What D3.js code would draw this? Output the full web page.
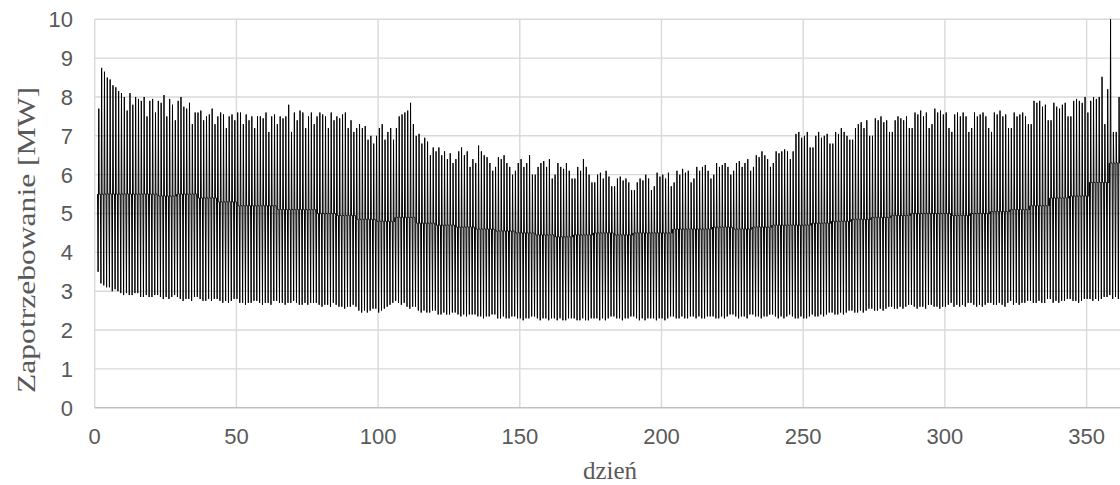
<!DOCTYPE html>
<html>
<head>
<meta charset="utf-8">
<script src="https://cdn.jsdelivr.net/npm/d3@7/dist/d3.min.js"></script>
<style>
  body { margin: 0; background: #fff; }
</style>
</head>
<body>
<div id="chart"></div>
<script>
// daily peak demand [MW], one row per week (days 1..364)
var dailyPeak = [
  7.7, 8.75, 8.65, 8.5, 8.45, 8.3, 8.25,
  8.15, 8.1, 8.0, 7.65, 8.1, 7.8, 8.0,
  7.95, 7.9, 8.0, 7.5, 7.9, 7.95, 7.6,
  7.9, 7.85, 8.05, 7.5, 7.95, 7.8, 7.4,
  7.9, 8.0, 7.75, 7.7, 7.85, 7.3, 7.6,
  7.6, 7.65, 7.4, 7.5, 7.55, 7.7, 7.3,
  7.5, 7.6, 7.55, 7.2, 7.5, 7.55, 7.4,
  7.6, 7.6, 7.3, 7.55, 7.4, 7.5, 7.2,
  7.5, 7.5, 7.45, 7.6, 7.1, 7.5, 7.55,
  7.3, 7.5, 7.45, 7.5, 7.8, 7.1, 7.6,
  7.4, 7.65, 7.6, 7.2, 7.5, 7.6, 7.3,
  7.5, 7.6, 7.55, 7.5, 7.2, 7.6, 7.4,
  7.5, 7.45, 7.55, 7.6, 7.2, 7.4, 7.1,
  7.2, 7.3, 7.2, 7.25, 6.9, 7.0, 6.8,
  7.0, 7.2, 7.3, 6.9, 7.1, 7.2, 6.9,
  7.2, 7.5, 7.55, 7.6, 7.65, 7.85, 7.3,
  7.0, 7.05, 6.8, 6.95, 6.85, 6.5, 6.7,
  6.6, 6.7, 6.5, 6.6, 6.4, 6.55, 6.3,
  6.4, 6.6, 6.7, 6.5, 6.6, 6.2, 6.4,
  6.3, 6.75, 6.6, 6.5, 6.45, 6.3, 6.1,
  6.2, 6.45, 6.4, 6.5, 6.3, 6.2, 6.0,
  6.1, 6.3, 6.4, 6.2, 6.3, 6.5, 6.0,
  6.0, 6.2, 6.3, 6.35, 6.2, 6.4, 5.9,
  6.0, 6.3, 6.2, 6.15, 6.3, 6.1, 5.9,
  5.9, 6.2, 6.1, 6.4, 6.2, 6.0, 5.8,
  5.8, 6.0, 6.05, 5.9, 6.1, 5.95, 5.7,
  5.7, 5.9, 5.95, 5.85, 5.9, 5.8, 5.6,
  5.6, 5.8, 5.9, 5.85, 6.0, 5.9, 5.6,
  5.7, 6.05, 5.95, 6.0, 5.9, 6.05, 5.7,
  5.8, 6.1, 6.0, 6.15, 6.05, 6.1, 5.8,
  5.9, 6.2, 6.1, 6.2, 6.25, 6.1, 5.9,
  6.0, 6.3, 6.2, 6.25, 6.3, 6.2, 6.0,
  6.1, 6.3, 6.35, 6.2, 6.3, 6.4, 6.1,
  6.2, 6.5, 6.45, 6.6, 6.5, 6.4, 6.2,
  6.3, 6.6, 6.55, 6.6, 6.65, 6.6, 6.4,
  6.6, 7.05, 7.1, 6.95, 7.0, 7.1, 6.7,
  6.7, 7.0, 7.1, 6.95, 7.0, 7.05, 6.8,
  6.8, 7.1, 7.05, 7.2, 7.1, 7.0, 6.9,
  6.9, 7.2, 7.3, 7.35, 7.2, 7.4, 7.0,
  7.0, 7.45, 7.4, 7.5, 7.35, 7.4, 7.1,
  7.1, 7.4, 7.5, 7.45, 7.4, 7.5, 7.2,
  7.2, 7.6, 7.55, 7.65, 7.5, 7.6, 7.2,
  7.3, 7.7, 7.6, 7.65, 7.55, 7.6, 7.2,
  7.1, 7.55, 7.6, 7.5, 7.6, 7.5, 7.1,
  7.2, 7.6, 7.5, 7.55, 7.6, 7.5, 7.2,
  7.1, 7.6, 7.55, 7.65, 7.5, 7.55, 7.2,
  7.2, 7.6, 7.5, 7.55, 7.6, 7.5, 7.3,
  7.3, 7.9, 7.85, 7.9, 7.75, 7.8, 7.4,
  7.4, 7.85, 7.75, 7.7, 7.8, 7.85, 7.5,
  7.5, 7.9, 7.95, 7.9, 7.85, 8.0, 7.6,
  7.9, 8.0, 7.95, 8.0, 8.52, 7.3, 8.2,
  10.0, 7.1, 7.1, 8.0, 7.0, 7.0, 6.8
];

// daily minimum (night) demand [MW]
var dailyLow = [
  3.5, 3.2, 3.15, 3.1, 3.1, 3.0, 3.05,
  3.0, 2.95, 2.9, 2.95, 2.9, 2.9, 2.95,
  2.95, 2.85, 2.85, 2.9, 2.85, 2.85, 2.9,
  2.9, 2.85, 2.8, 2.85, 2.8, 2.85, 2.9,
  2.85, 2.8, 2.75, 2.8, 2.8, 2.75, 2.85,
  2.85, 2.8, 2.75, 2.75, 2.8, 2.75, 2.8,
  2.8, 2.75, 2.7, 2.75, 2.7, 2.75, 2.8,
  2.8, 2.7, 2.7, 2.65, 2.7, 2.7, 2.75,
  2.75, 2.7, 2.65, 2.7, 2.7, 2.65, 2.75,
  2.75, 2.7, 2.7, 2.65, 2.7, 2.7, 2.75,
  2.7, 2.65, 2.65, 2.7, 2.65, 2.7, 2.7,
  2.7, 2.65, 2.6, 2.65, 2.65, 2.6, 2.7,
  2.65, 2.6, 2.6, 2.55, 2.6, 2.6, 2.65,
  2.6, 2.5, 2.45, 2.5, 2.45, 2.5, 2.55,
  2.55, 2.45, 2.5, 2.55, 2.6, 2.65, 2.7,
  2.75, 2.7, 2.65, 2.7, 2.6, 2.55, 2.6,
  2.6, 2.5, 2.45, 2.5, 2.45, 2.45, 2.5,
  2.5, 2.4, 2.4, 2.45, 2.4, 2.4, 2.45,
  2.45, 2.4, 2.35, 2.4, 2.35, 2.4, 2.4,
  2.4, 2.35, 2.35, 2.3, 2.35, 2.35, 2.4,
  2.4, 2.3, 2.3, 2.35, 2.3, 2.3, 2.35,
  2.35, 2.3, 2.3, 2.25, 2.3, 2.3, 2.35,
  2.35, 2.3, 2.25, 2.3, 2.3, 2.25, 2.3,
  2.3, 2.25, 2.3, 2.25, 2.25, 2.3, 2.3,
  2.3, 2.25, 2.25, 2.3, 2.25, 2.25, 2.3,
  2.3, 2.3, 2.25, 2.3, 2.25, 2.3, 2.35,
  2.35, 2.3, 2.3, 2.25, 2.3, 2.3, 2.35,
  2.35, 2.3, 2.25, 2.3, 2.25, 2.3, 2.3,
  2.3, 2.25, 2.3, 2.3, 2.25, 2.3, 2.35,
  2.35, 2.3, 2.3, 2.35, 2.3, 2.3, 2.35,
  2.35, 2.3, 2.35, 2.3, 2.3, 2.35, 2.35,
  2.35, 2.3, 2.3, 2.35, 2.3, 2.35, 2.4,
  2.4, 2.35, 2.3, 2.35, 2.35, 2.3, 2.4,
  2.4, 2.35, 2.35, 2.3, 2.35, 2.35, 2.4,
  2.4, 2.35, 2.3, 2.35, 2.3, 2.35, 2.4,
  2.35, 2.3, 2.3, 2.35, 2.3, 2.3, 2.35,
  2.4, 2.35, 2.35, 2.4, 2.35, 2.4, 2.45,
  2.45, 2.4, 2.4, 2.45, 2.4, 2.45, 2.5,
  2.5, 2.45, 2.45, 2.5, 2.45, 2.5, 2.55,
  2.55, 2.5, 2.5, 2.55, 2.5, 2.55, 2.6,
  2.6, 2.55, 2.55, 2.6, 2.55, 2.6, 2.65,
  2.65, 2.6, 2.55, 2.6, 2.6, 2.55, 2.65,
  2.65, 2.6, 2.6, 2.55, 2.6, 2.6, 2.65,
  2.7, 2.6, 2.65, 2.6, 2.65, 2.6, 2.7,
  2.7, 2.65, 2.6, 2.65, 2.6, 2.65, 2.7,
  2.7, 2.65, 2.65, 2.7, 2.65, 2.6, 2.7,
  2.75, 2.65, 2.7, 2.65, 2.7, 2.7, 2.75,
  2.75, 2.7, 2.7, 2.75, 2.7, 2.7, 2.8,
  2.8, 2.7, 2.75, 2.7, 2.75, 2.75, 2.8,
  2.8, 2.75, 2.75, 2.7, 2.75, 2.8, 2.8,
  2.8, 2.75, 2.8, 2.75, 2.8, 2.85, 2.85,
  2.9, 2.8, 2.85, 2.8, 2.85, 2.85, 2.85
];

// level of the afternoon / evening plateau, one value per week [MW]
var weeklyMid = [
  5.5, 5.5, 5.5, 5.45, 5.5, 5.4, 5.3, 5.2, 5.2, 5.1,
  5.1, 5.0, 4.95, 4.85, 4.8, 4.9, 4.75, 4.7, 4.65, 4.6,
  4.55, 4.5, 4.45, 4.4, 4.45, 4.5, 4.45, 4.5, 4.5, 4.6,
  4.6, 4.65, 4.6, 4.65, 4.7, 4.7, 4.75, 4.8, 4.85, 4.9,
  4.95, 5.0, 5.0, 4.95, 5.0, 5.05, 5.1, 5.2, 5.4, 5.45,
  5.8, 6.3
];

var xTicks = [0, 50, 100, 150, 200, 250, 300, 350];
var yTicks = [0, 1, 2, 3, 4, 5, 6, 7, 8, 9, 10];

var svgWidth = 1120;
var svgHeight = 485;

var margin = { top: 19.3, left: 94.7, bottom: 77.3 };
var plotBottom = svgHeight - margin.bottom;

var svg = d3.select("#chart")
  .append("svg")
  .attr("width", svgWidth)
  .attr("height", svgHeight);

// 50 days ~ 141.7 px, the chart is cut off at the right edge
var xScale = d3.scaleLinear()
  .domain([0, 400])
  .range([margin.left, margin.left + 400 * 2.834]);

var yScale = d3.scaleLinear()
  .domain([0, 10])
  .range([plotBottom, margin.top]);

// gridlines
svg.append("g")
  .selectAll("line")
  .data(yTicks.slice(1))
  .enter()
  .append("line")
  .attr("x1", margin.left)
  .attr("x2", svgWidth)
  .attr("y1", d => yScale(d))
  .attr("y2", d => yScale(d))
  .attr("stroke", "#d9d9d9")
  .attr("stroke-width", 1.4);

svg.append("g")
  .selectAll("line")
  .data(xTicks)
  .enter()
  .append("line")
  .attr("x1", d => xScale(d))
  .attr("x2", d => xScale(d))
  .attr("y1", margin.top)
  .attr("y2", plotBottom)
  .attr("stroke", "#d9d9d9")
  .attr("stroke-width", 1.4);

// x axis line
svg.append("line")
  .attr("x1", margin.left)
  .attr("x2", svgWidth)
  .attr("y1", plotBottom)
  .attr("y2", plotBottom)
  .attr("stroke", "#bfbfbf")
  .attr("stroke-width", 1.4);

// build the load curve: each day goes down to its night low, up to its peak,
// then sits on the evening plateau
var pts = [];
dailyPeak.forEach((peak, i) => {
  var d = i + 1;
  var mid = weeklyMid[Math.floor(i / 7)];
  pts.push([d, mid]);
  pts.push([d + 0.2, dailyLow[i]]);
  pts.push([d + 0.45, peak]);
  pts.push([d + 0.6, mid]);
  pts.push([d + 0.95, mid]);
});

var line = d3.line()
  .x(p => xScale(p[0]))
  .y(p => yScale(p[1]));

svg.append("path")
  .datum(pts)
  .attr("d", line)
  .attr("fill", "none")
  .attr("stroke", "#000")
  .attr("stroke-width", 1);

// tick labels
var tickFont = "'Liberation Sans', Arial, sans-serif";

svg.append("g")
  .selectAll("text")
  .data(yTicks)
  .enter()
  .append("text")
  .attr("x", 73)
  .attr("y", d => yScale(d))
  .attr("dy", "0.36em")
  .attr("text-anchor", "end")
  .attr("font-family", tickFont)
  .attr("font-size", "22px")
  .attr("fill", "#595959")
  .text(d => d);

svg.append("g")
  .selectAll("text")
  .data(xTicks)
  .enter()
  .append("text")
  .attr("x", d => xScale(d))
  .attr("y", 444)
  .attr("text-anchor", "middle")
  .attr("font-family", tickFont)
  .attr("font-size", "22px")
  .attr("fill", "#595959")
  .text(d => d);

// axis titles (the y title is stretched along its length in the original)
var titleFont = "'Liberation Serif', 'Times New Roman', serif";

svg.append("text")
  .attr("transform", "translate(35,240) rotate(-90)")
  .attr("x", -153)
  .attr("textLength", 306)
  .attr("lengthAdjust", "spacingAndGlyphs")
  .attr("font-family", titleFont)
  .attr("font-size", "25px")
  .attr("fill", "#595959")
  .text("Zapotrzebowanie [MW]");

svg.append("text")
  .attr("x", 610)
  .attr("y", 479)
  .attr("text-anchor", "middle")
  .attr("font-family", titleFont)
  .attr("font-size", "25px")
  .attr("fill", "#595959")
  .text("dzień");
</script>
</body>
</html>
